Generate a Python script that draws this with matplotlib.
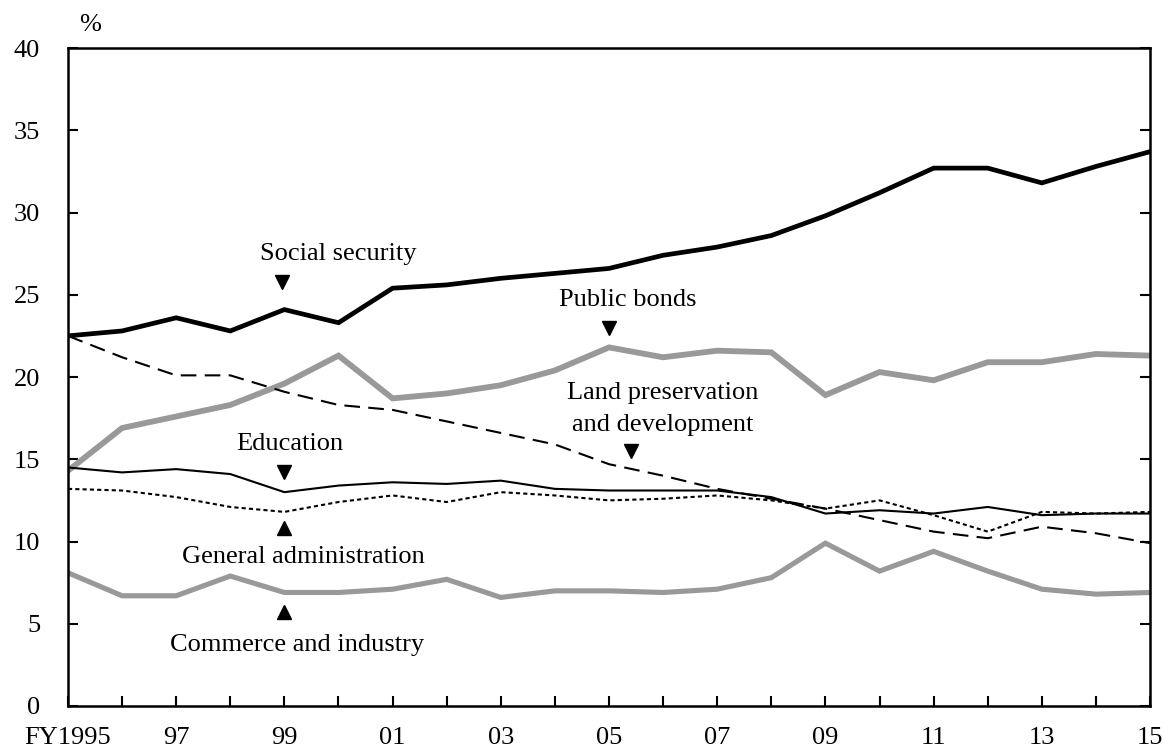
import matplotlib
matplotlib.use("Agg")
import matplotlib.pyplot as plt

plt.rcParams['font.family'] = ['Liberation Serif', 'DejaVu Serif']

years = list(range(1995, 2016))
social_security = [22.5, 22.8, 23.6, 22.8, 24.1, 23.3, 25.4, 25.6, 26.0, 26.3, 26.6,
                   27.4, 27.9, 28.6, 29.8, 31.2, 32.7, 32.7, 31.8, 32.8, 33.7]
public_bonds = [14.3, 16.9, 17.6, 18.3, 19.6, 21.3, 18.7, 19.0, 19.5, 20.4, 21.8,
                21.2, 21.6, 21.5, 18.9, 20.3, 19.8, 20.9, 20.9, 21.4, 21.3]
land_dev = [22.5, 21.2, 20.1, 20.1, 19.1, 18.3, 18.0, 17.3, 16.6, 15.9, 14.7,
            14.0, 13.2, 12.6, 12.0, 11.3, 10.6, 10.2, 10.9, 10.5, 9.9]
education = [14.5, 14.2, 14.4, 14.1, 13.0, 13.4, 13.6, 13.5, 13.7, 13.2, 13.1,
             13.1, 13.1, 12.7, 11.7, 11.9, 11.7, 12.1, 11.6, 11.7, 11.7]
general_admin = [13.2, 13.1, 12.7, 12.1, 11.8, 12.4, 12.8, 12.4, 13.0, 12.8, 12.5,
                 12.6, 12.8, 12.5, 12.0, 12.5, 11.6, 10.6, 11.8, 11.7, 11.8]
commerce = [8.1, 6.7, 6.7, 7.9, 6.9, 6.9, 7.1, 7.7, 6.6, 7.0, 7.0,
            6.9, 7.1, 7.8, 9.9, 8.2, 9.4, 8.2, 7.1, 6.8, 6.9]
xtick_labels = ['FY1995', '97', '99', '01', '03', '05', '07', '09', '11', '13', '15']

fig = plt.figure(figsize=(11.64, 7.47), dpi=100)
ax = fig.add_axes([0.0584, 0.0549, 0.9296, 0.8808])

grey = '#999999'
ax.plot(years, commerce, color=grey, lw=3.7, solid_joinstyle='miter')
ax.plot(years, public_bonds, color=grey, lw=4.2, solid_joinstyle='miter')
ax.plot(years, land_dev, color='black', lw=1.5, dashes=(7.5, 4))
ax.plot(years, general_admin, color='black', lw=1.5, dashes=(2, 1.5))
ax.plot(years, education, color='black', lw=1.5)
ax.plot(years, social_security, color='black', lw=3.4, solid_joinstyle='miter')

ax.set_xlim(1995, 2015)
ax.set_ylim(0, 40)
ax.set_xticks(years)
ax.set_xticklabels([xtick_labels[i // 2] if i % 2 == 0 else '' for i in range(len(years))])
ax.set_yticks(range(0, 41, 5))
ax.tick_params(direction='in', length=7, width=1.5, labelsize=19)
ax.tick_params(axis='x', pad=15)
ax.tick_params(axis='y', right=True, pad=20)
for s in ax.spines.values():
    s.set_linewidth(1.8)

fs = 19
ax.text(2000.0, 27.5, 'Social security', ha='center', va='center', fontsize=fs)
ax.plot(1998.95, 25.8, marker='v', color='black', ms=10)
ax.text(2005.35, 24.7, 'Public bonds', ha='center', va='center', fontsize=fs)
ax.plot(2005, 23.0, marker='v', color='black', ms=10)
ax.text(2006.0, 19.0, 'Land preservation', ha='center', va='center', fontsize=fs)
ax.text(2006.0, 17.1, 'and development', ha='center', va='center', fontsize=fs)
ax.plot(2005.4, 15.5, marker='v', color='black', ms=10)
ax.text(1999.1, 15.9, 'Education', ha='center', va='center', fontsize=fs)
ax.plot(1999, 14.2, marker='v', color='black', ms=10)
ax.text(1999.35, 9.06, 'General administration', ha='center', va='center', fontsize=fs)
ax.plot(1999, 10.8, marker='^', color='black', ms=10)
ax.text(1999.23, 3.7, 'Commerce and industry', ha='center', va='center', fontsize=fs)
ax.plot(1999, 5.7, marker='^', color='black', ms=10)

fig.text(0.077, 0.966, '%', ha='center', va='center', fontsize=19)

fig.savefig('out.png', dpi=100)
